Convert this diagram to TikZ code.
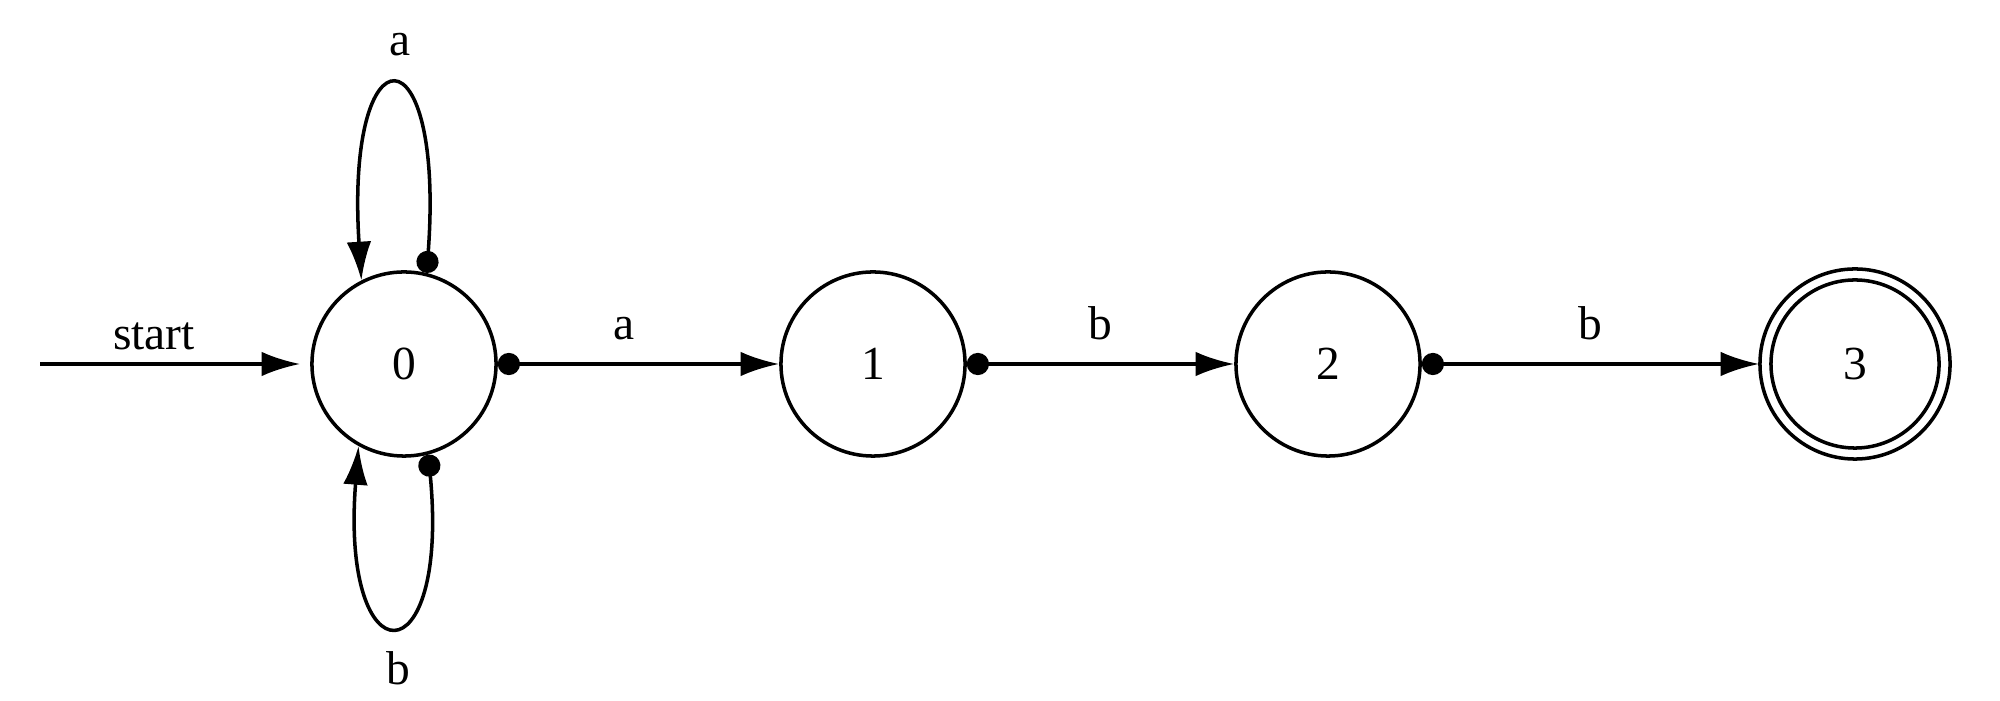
\documentclass[tikz,border=0pt]{standalone}
\usepackage{fontspec}
\setmainfont{Liberation Serif}
\usetikzlibrary{arrows.meta}
\begin{document}
\begin{tikzpicture}[x=0.01cm,y=-0.01cm,
  state/.style={draw,circle,line width=1pt,minimum size=1.84cm,inner sep=0pt,font=\fontsize{13.5}{15}\selectfont},
  tr/.style={line width=1pt,{Circle[length=6.3pt]}-{Latex[length=11pt,width=7pt]}},
  lbl/.style={font=\fontsize{13.5}{15}\selectfont}]
\useasboundingbox (0,0) rectangle (2000,701);
\node[state] (n0) at (404,364) {0};
\node[state] (n1) at (873,364) {1};
\node[state] (n2) at (1328,364) {2};
\node[state,minimum size=1.68cm] (n3) at (1855,364) {3};
\draw[line width=1pt] (n3) circle (0.95cm);
\coordinate (s) at (40,364);
\draw[line width=1pt,-{Latex[length=11pt,width=7pt]}] (s) -- ([xshift=-0.1cm]n0.west);
\node[lbl] (ls) at (154,336) {start};
\draw[tr] (n0.east) -- (n1.west) node[lbl,pos=0.45,above=3pt] {a};
\draw[tr] (n1.east) -- (n2.west) node[lbl,midway,above=3pt] {b};
\draw[tr] (n2.east) -- ([xshift=-0.1cm]n3.west) node[lbl,midway,above=3pt] {b};
\draw[tr] (n0.76) .. controls (445,25) and (345,25) .. (n0.117);
\node[lbl] (la) at (400,45) {a};
\draw[tr] (n0.-75) .. controls (450,681) and (340,681) .. (n0.-119);
\node[lbl] (lb) at (398,668) {b};
\end{tikzpicture}
\end{document}
